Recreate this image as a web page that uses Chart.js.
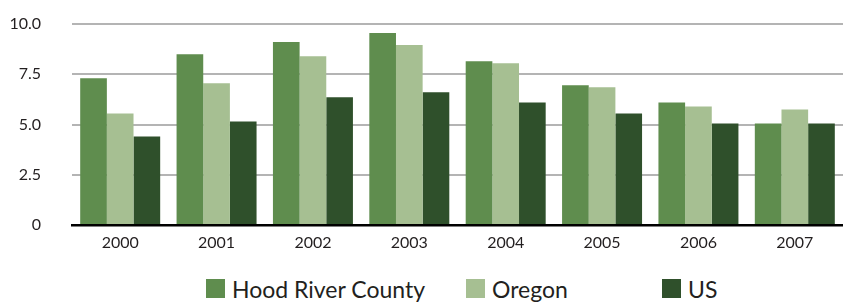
<!DOCTYPE html>
<html>
<head>
<meta charset="utf-8">
<script src="https://cdn.jsdelivr.net/npm/chart.js@4/dist/chart.umd.min.js"></script>
<style>
  html, body { margin: 0; padding: 0; background: #fff; }
  #wrap { width: 843px; height: 302px; font-family: Lato, "Open Sans", sans-serif; color: #231f20; }
  #legend { display: flex; align-items: center; height: 40px; padding-left: 206px; box-sizing: border-box; }
  #legend .item { display: flex; align-items: center; font-size: 23px; margin-top: 13px; }
  #legend .box { width: 19px; height: 19px; margin-right: 7px; }
</style>
</head>
<body>
<div id="wrap">
  <canvas id="chart" width="843" height="262"></canvas>
  <div id="legend"></div>
</div>
<script>
const years = ["2000", "2001", "2002", "2003", "2004", "2005", "2006", "2007"];
const hoodRiver = [7.3, 8.5, 9.1, 9.55, 8.15, 6.95, 6.1, 5.05];
const oregon = [5.55, 7.05, 8.4, 8.95, 8.05, 6.85, 5.9, 5.75];
const us = [4.4, 5.15, 6.35, 6.6, 6.1, 5.55, 5.05, 5.05];

const textColor = "#231f20";
const fontFamily = "Lato, 'Open Sans', sans-serif";
// width of each legend slot, so boxes land where the original has them
const legendSlots = [260, 196, 0];

// builds the legend under the canvas from the chart's own datasets
const htmlLegend = {
  id: "htmlLegend",
  afterUpdate(chart) {
    const el = document.getElementById("legend");
    el.innerHTML = "";
    chart.data.datasets.forEach((ds, i) => {
      const item = document.createElement("div");
      item.className = "item";
      if (legendSlots[i]) item.style.width = legendSlots[i] + "px";
      const box = document.createElement("span");
      box.className = "box";
      box.style.background = ds.backgroundColor;
      const txt = document.createElement("span");
      txt.textContent = ds.label;
      item.appendChild(box);
      item.appendChild(txt);
      el.appendChild(item);
    });
  },
};

const ctx = document.getElementById("chart").getContext("2d");

new Chart(ctx, {
  type: "bar",
  data: {
    labels: years,
    datasets: [
      { label: "Hood River County", data: hoodRiver, backgroundColor: "#5f8d4e" },
      { label: "Oregon", data: oregon, backgroundColor: "#a6bf92" },
      { label: "US", data: us, backgroundColor: "#2f502b" },
    ],
  },
  plugins: [htmlLegend],
  options: {
    responsive: false,
    animation: false,
    layout: { padding: { top: 24, right: 0, left: 0, bottom: 0 } },
    datasets: {
      bar: { barPercentage: 1, categoryPercentage: 0.83 },
    },
    scales: {
      x: {
        grid: { display: false, drawTicks: false },
        border: { display: true, color: "#000", width: 2.5 },
        ticks: {
          color: textColor,
          padding: 8,
          font: { family: fontFamily, size: 16 },
        },
        afterFit: (scale) => { scale.height = 37; },
      },
      y: {
        min: 0,
        max: 10,
        grid: { color: "#b4b4b4", lineWidth: 2, drawTicks: false },
        border: { display: false },
        ticks: {
          stepSize: 2.5,
          color: textColor,
          padding: 31,
          font: { family: fontFamily, size: 16 },
          callback: (v) => (v === 0 ? "0" : v.toFixed(1)),
        },
        afterFit: (scale) => {
          scale.width = 72;
          // tick padding is only meant as horizontal gap here
          scale.paddingTop = 0;
          scale.paddingBottom = 0;
        },
      },
    },
    plugins: {
      tooltip: { enabled: false },
      legend: { display: false },
    },
  },
});
</script>
</body>
</html>
